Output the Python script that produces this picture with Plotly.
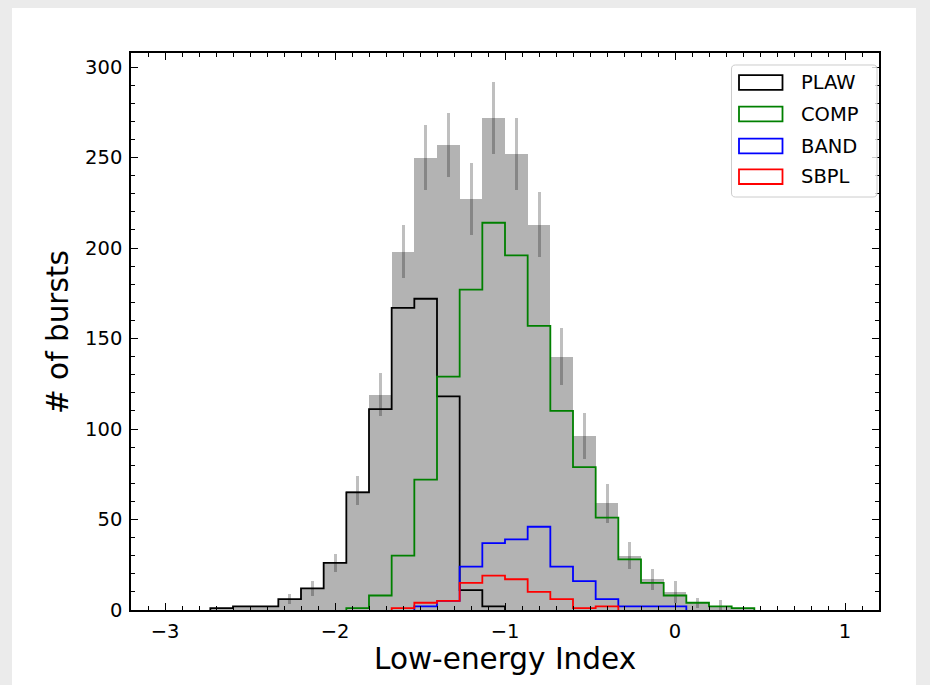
import numpy as np
import plotly.graph_objects as go

# Histogram binning of the low-energy photon index
bin_edges = np.linspace(-3.0, 1.0, 31)
bin_centers = (bin_edges[:-1] + bin_edges[1:]) / 2
bin_width = bin_edges[1] - bin_edges[0]

# Burst counts per bin for each best-fit spectral model
plaw_counts = [0, 0, 1, 2, 2, 6, 12, 26, 65, 111, 167, 172, 118, 11, 2,
               0, 0, 0, 0, 0, 0, 0, 0, 0, 0, 0, 0, 0, 0, 0]
comp_counts = [0, 0, 0, 0, 0, 0, 0, 0, 1, 8, 30, 72, 129, 177, 214,
               196, 157, 110, 79, 51, 28, 15, 8, 4, 2, 1, 0, 0, 0, 0]
band_counts = [0, 0, 0, 0, 0, 0, 0, 0, 0, 0, 0, 2, 5, 24, 37,
               39, 46, 24, 16, 6, 2, 2, 2, 0, 0, 0, 0, 0, 0, 0]
sbpl_counts = [0, 0, 0, 0, 0, 0, 0, 0, 0, 0, 1, 4, 5, 15, 19,
               17, 10, 6, 1, 2, 0, 0, 0, 0, 0, 0, 0, 0, 0, 0]

# Uncertainty on the total counts per bin
total_errors = [0, 0, 0, 0, 0, 2.8, 4.0, 5.1, 8.0, 12.0, 14.8, 18.1, 17.8, 20.0, 19.8,
                20.0, 18.1, 15.9, 12.6, 10.8, 7.5, 5.9, 6.0, 2.9, 3.5, 0, 0, 0, 0, 0]

model_names = ["PLAW", "COMP", "BAND", "SBPL"]
model_colors = ["#000000", "#008000", "#0000ff", "#ff0000"]
model_counts = [plaw_counts, comp_counts, band_counts, sbpl_counts]

total_counts = np.sum(np.array(model_counts), axis=0)

FONT = "DejaVu Sans"
W, H = 930, 685
ML, MR, MT, MB = 131, 51, 53, 75
PW, PH = W - ML - MR, H - MT - MB


def px2x(px):
    return (px - ML) / PW


def py2y(py):
    return (H - MB - py) / PH


fig = go.Figure()

# Total distribution as filled gray bars with error bars
fig.add_trace(go.Bar(
    x=bin_centers, y=total_counts, width=bin_width,
    marker=dict(color="#b3b3b3", line=dict(width=0)),
    error_y=dict(type="data", array=total_errors, color="rgba(0,0,0,0.25)",
                 thickness=3, width=0),
    showlegend=False, hoverinfo="skip",
))


def step_outline(counts):
    # outline spanning the occupied bins only
    nz = [i for i, c in enumerate(counts) if c > 0]
    lo, hi = nz[0], nz[-1] + 1
    xs = [bin_edges[lo]] + list(bin_edges[lo:hi + 1])
    ys = [0] + list(counts[lo:hi]) + [0]
    return xs, ys


for name, color, counts in zip(model_names, model_colors, model_counts):
    xs, ys = step_outline(counts)
    fig.add_trace(go.Scatter(
        x=xs, y=ys, mode="lines", line=dict(color=color, width=1.8, shape="hv"),
        name=name, showlegend=False, hoverinfo="skip",
    ))

axis_common = dict(
    showgrid=False, zeroline=False, showline=True, linecolor="black", linewidth=1.5,
    mirror="allticks", ticks="inside", ticklen=7, tickwidth=1.4, tickcolor="black",
    tickfont=dict(family=FONT, size=19.5, color="black"),
)

fig.update_xaxes(
    range=[-3.2, 1.2], tickmode="linear", tick0=0, dtick=1,
    minor=dict(tickmode="linear", tick0=0, dtick=0.1, ticks="inside", ticklen=4,
               tickwidth=1.2, tickcolor="black"),
    ticklabelstandoff=3, **axis_common,
)
fig.update_yaxes(
    range=[0, 307.8], tickmode="linear", tick0=0, dtick=50,
    minor=dict(tickmode="linear", tick0=0, dtick=10, ticks="inside", ticklen=4,
               tickwidth=1.2, tickcolor="black"),
    ticklabelstandoff=3, **axis_common,
)

shapes = []
# White figure panel
shapes.append(dict(type="rect", xref="paper", yref="paper",
                   x0=px2x(12), x1=px2x(916), y0=py2y(H + 5), y1=py2y(8),
                   fillcolor="white", line=dict(width=0), layer="below"))

# Legend frame with rounded corners
lx0, lx1, ly0, ly1, r = 731.5, 877, 65, 197, 4


def pt(px, py):
    return f"{px2x(px):.5f},{py2y(py):.5f}"


frame_path = (
    f"M {pt(lx0 + r, ly0)} L {pt(lx1 - r, ly0)} Q {pt(lx1, ly0)} {pt(lx1, ly0 + r)} "
    f"L {pt(lx1, ly1 - r)} Q {pt(lx1, ly1)} {pt(lx1 - r, ly1)} "
    f"L {pt(lx0 + r, ly1)} Q {pt(lx0, ly1)} {pt(lx0, ly1 - r)} "
    f"L {pt(lx0, ly0 + r)} Q {pt(lx0, ly0)} {pt(lx0 + r, ly0)} Z"
)
shapes.append(dict(type="path", xref="paper", yref="paper", path=frame_path,
                   fillcolor="rgba(255,255,255,0.8)", line=dict(color="#cccccc", width=1),
                   layer="above"))

annotations = []
entry_centers = [82.5, 114, 146, 176.7]
for name, color, cy in zip(model_names, model_colors, entry_centers):
    shapes.append(dict(type="rect", xref="paper", yref="paper",
                       x0=px2x(739), x1=px2x(782.5), y0=py2y(cy + 7.3), y1=py2y(cy - 7.3),
                       fillcolor="rgba(0,0,0,0)", line=dict(color=color, width=1.8),
                       layer="above"))
    annotations.append(dict(text=name, xref="paper", yref="paper",
                            x=px2x(798.5), y=py2y(cy), xanchor="left", yanchor="middle",
                            showarrow=False,
                            font=dict(family=FONT, size=19.5, color="black")))

# Axis titles
annotations.append(dict(text="Low-energy Index", xref="paper", yref="paper",
                        x=px2x(505), y=py2y(659), xanchor="center", yanchor="middle",
                        showarrow=False, font=dict(family=FONT, size=29.5, color="black")))
annotations.append(dict(text="# of bursts", xref="paper", yref="paper",
                        x=px2x(58), y=py2y(332), xanchor="center", yanchor="middle",
                        textangle=-90, showarrow=False,
                        font=dict(family=FONT, size=29.5, color="black")))

fig.update_layout(
    width=W, height=H,
    margin=dict(l=ML, r=MR, t=MT, b=MB, pad=0),
    paper_bgcolor="#ebebeb", plot_bgcolor="white",
    bargap=0, barmode="overlay",
    shapes=shapes, annotations=annotations,
    font=dict(family=FONT, color="black"),
    showlegend=False,
)

fig.write_html("out.html")
